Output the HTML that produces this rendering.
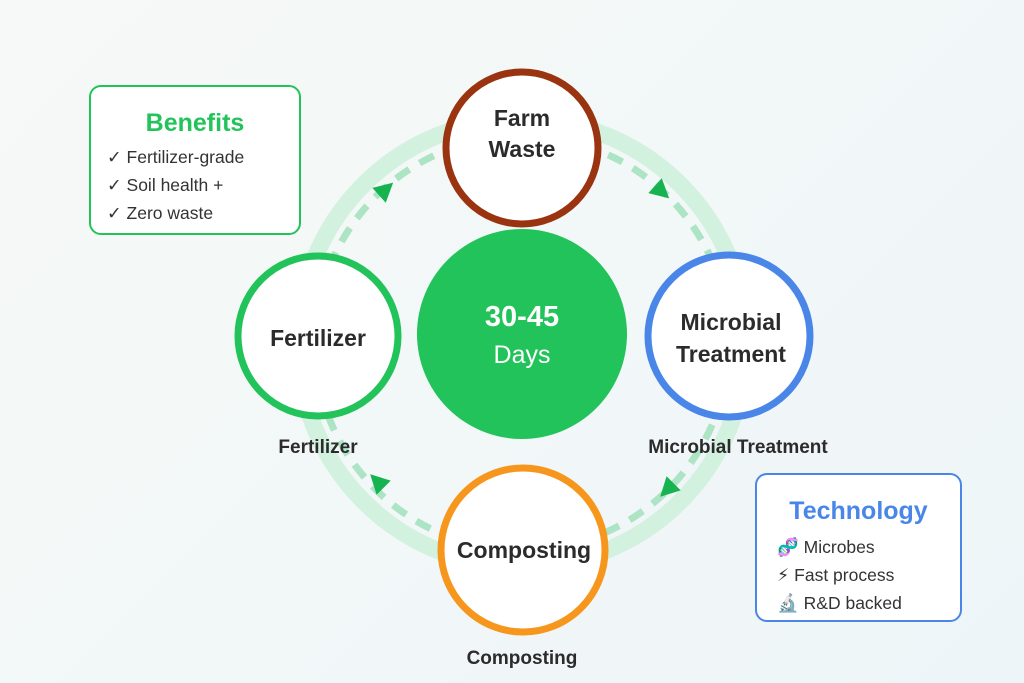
<!DOCTYPE html>
<html><head><meta charset="utf-8"><style>
html,body{margin:0;padding:0}
body{width:1024px;height:683px;overflow:hidden;background:linear-gradient(135deg,#f6f9f7,#eef5f8);font-family:"Liberation Sans","DejaVu Sans",sans-serif}
.box{position:absolute;background:#fff;border-radius:12px;box-sizing:border-box}
.box h3{margin:0;text-align:center;font-size:25px;font-weight:bold}
.box div{font-size:17.5px;color:#333;line-height:28px}
</style></head><body>
<svg width="1024" height="683" style="position:absolute;left:0;top:0">
<circle cx="522" cy="343" r="224" fill="none" stroke="#d2f1df" stroke-width="17"/>
<circle cx="522" cy="343" r="207" fill="none" stroke="#ace4c4" stroke-width="7" stroke-dasharray="16 12"/>
<g fill="#16b350">
<polygon points="11,0 -8,-10 -8,10" transform="translate(385,190) rotate(-42)"/>
<polygon points="11,0 -8,-10 -8,10" transform="translate(661,191) rotate(42)"/>
<polygon points="11,0 -8,-10 -8,10" transform="translate(668,489) rotate(135)"/>
<polygon points="11,0 -8,-10 -8,10" transform="translate(378,482) rotate(-135)"/>
</g>
<circle cx="522" cy="334" r="105" fill="#22c35a"/>
<text x="522" y="326" text-anchor="middle" fill="#fff" font-size="29" font-weight="bold">30-45</text>
<text x="522" y="363" text-anchor="middle" fill="#fff" font-size="25">Days</text>
<circle cx="522" cy="148" r="76" fill="#fff" stroke="#9a3410" stroke-width="7"/>
<text x="522" y="126" text-anchor="middle" fill="#2b2b2b" font-size="23" font-weight="bold">Farm</text>
<text x="522" y="157" text-anchor="middle" fill="#2b2b2b" font-size="23" font-weight="bold">Waste</text>
<circle cx="729" cy="336" r="81" fill="#fff" stroke="#4a86e8" stroke-width="7"/>
<text x="731" y="330" text-anchor="middle" fill="#2b2b2b" font-size="23" font-weight="bold">Microbial</text>
<text x="731" y="362" text-anchor="middle" fill="#2b2b2b" font-size="23" font-weight="bold">Treatment</text>
<circle cx="318" cy="336" r="80" fill="#fff" stroke="#22c35a" stroke-width="7"/>
<text x="318" y="346" text-anchor="middle" fill="#2b2b2b" font-size="23" font-weight="bold">Fertilizer</text>
<circle cx="523" cy="550" r="82" fill="#fff" stroke="#f7961c" stroke-width="7"/>
<text x="524" y="558" text-anchor="middle" fill="#2b2b2b" font-size="23" font-weight="bold">Composting</text>
<text x="318" y="453" text-anchor="middle" fill="#2b2b2b" font-size="19" font-weight="bold">Fertilizer</text>
<text x="738" y="453" text-anchor="middle" fill="#2b2b2b" font-size="19" font-weight="bold">Microbial Treatment</text>
<text x="522" y="664" text-anchor="middle" fill="#2b2b2b" font-size="19" font-weight="bold">Composting</text>
</svg>
<div class="box" style="left:89px;top:85px;width:212px;height:150px;border:2px solid #22c35a;padding:22px 0 0 16px">
<h3 style="color:#22c35a;margin-left:-16px">Benefits</h3>
<div style="margin-top:5px">✓ Fertilizer-grade<br>✓ Soil health +<br>✓ Zero waste</div>
</div>
<div class="box" style="left:755px;top:473px;width:207px;height:149px;border:2px solid #4a86e8;padding:22px 0 0 20px">
<h3 style="color:#4a86e8;margin-left:-20px">Technology</h3>
<div style="margin-top:7px">🧬 Microbes<br>⚡ Fast process<br>🔬 R&amp;D backed</div>
</div>
</body></html>
